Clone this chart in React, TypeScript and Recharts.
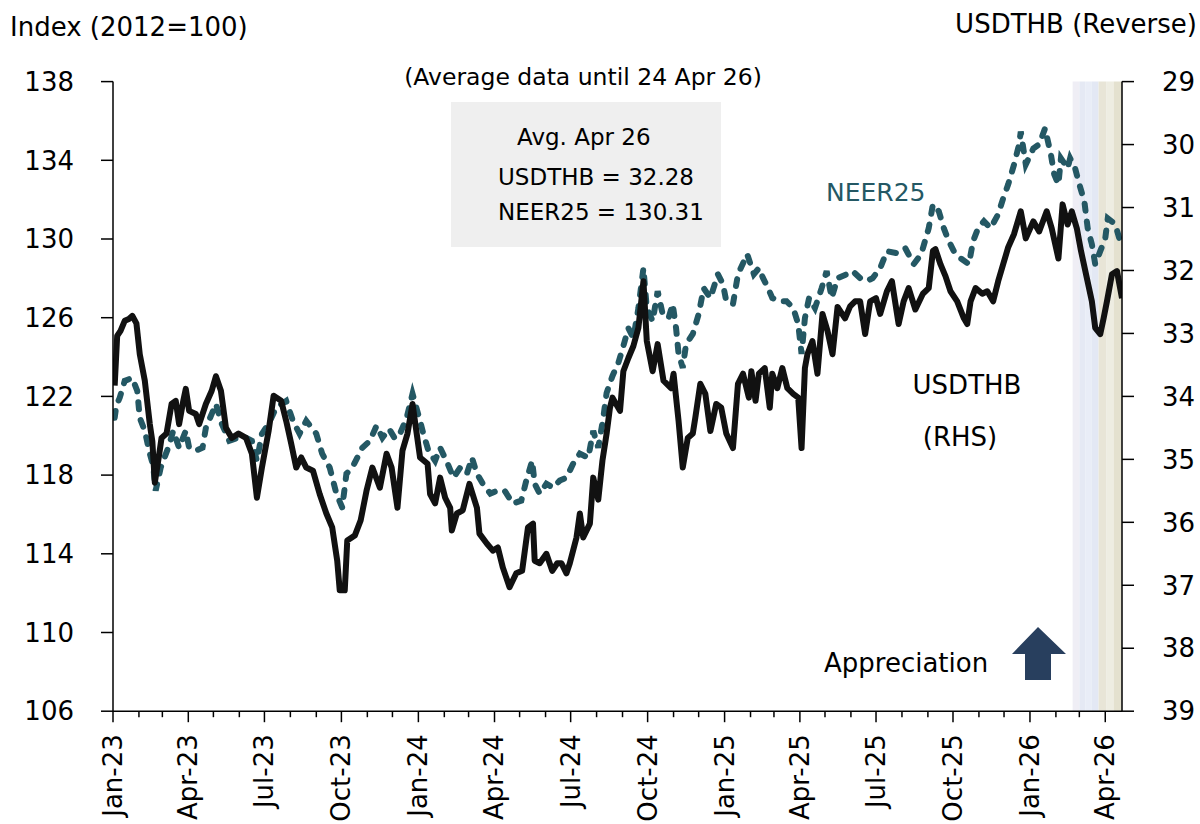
import React from "react";
import { ComposedChart, Line, XAxis, YAxis, ReferenceArea } from "recharts";

// USDTHB (right axis, reversed)
const usdDates = [
  "2023-01-03", "2023-01-06", "2023-01-10", "2023-01-15", "2023-01-20", "2023-01-24", "2023-01-29",
  "2023-02-02", "2023-02-08", "2023-02-14", "2023-02-17", "2023-02-20", "2023-02-25", "2023-02-28",
  "2023-03-06", "2023-03-12", "2023-03-17", "2023-03-21", "2023-03-26", "2023-03-29",
  "2023-04-02", "2023-04-10", "2023-04-14", "2023-04-22", "2023-04-29",
  "2023-05-04", "2023-05-10", "2023-05-16", "2023-05-23", "2023-05-31",
  "2023-06-09", "2023-06-16", "2023-06-22", "2023-06-28",
  "2023-07-06", "2023-07-12", "2023-07-21", "2023-07-27",
  "2023-08-02", "2023-08-08", "2023-08-14", "2023-08-20", "2023-08-28",
  "2023-09-05", "2023-09-13", "2023-09-20", "2023-09-26", "2023-09-29",
  "2023-10-05", "2023-10-08", "2023-10-17", "2023-10-24", "2023-10-31",
  "2023-11-07", "2023-11-16", "2023-11-24", "2023-11-30",
  "2023-12-07", "2023-12-13", "2023-12-19", "2023-12-25",
  "2024-01-03", "2024-01-12", "2024-01-15", "2024-01-21", "2024-01-27",
  "2024-02-02", "2024-02-08", "2024-02-10", "2024-02-16", "2024-02-23",
  "2024-03-02", "2024-03-11", "2024-03-14", "2024-03-23", "2024-03-30",
  "2024-04-05", "2024-04-11", "2024-04-19", "2024-04-27",
  "2024-05-04", "2024-05-11", "2024-05-17", "2024-05-19", "2024-05-25",
  "2024-06-02", "2024-06-09", "2024-06-15", "2024-06-20", "2024-06-26", "2024-06-30",
  "2024-07-08", "2024-07-12", "2024-07-16", "2024-07-24", "2024-07-28",
  "2024-08-03", "2024-08-08", "2024-08-13", "2024-08-17", "2024-08-20", "2024-08-29",
  "2024-09-02", "2024-09-08", "2024-09-14", "2024-09-20", "2024-09-26", "2024-09-30",
  "2024-10-07", "2024-10-13", "2024-10-20", "2024-10-29",
  "2024-11-01", "2024-11-07", "2024-11-12", "2024-11-18", "2024-11-24", "2024-11-27",
  "2024-12-03", "2024-12-09", "2024-12-15", "2024-12-22", "2024-12-28",
  "2025-01-03", "2025-01-11", "2025-01-17", "2025-01-23", "2025-01-30",
  "2025-02-02", "2025-02-07", "2025-02-11", "2025-02-18", "2025-02-24", "2025-02-27",
  "2025-03-05", "2025-03-11", "2025-03-17", "2025-03-24", "2025-03-30",
  "2025-04-03", "2025-04-07", "2025-04-10", "2025-04-16", "2025-04-22", "2025-04-28",
  "2025-05-04", "2025-05-10", "2025-05-16", "2025-05-25", "2025-05-31",
  "2025-06-06", "2025-06-12", "2025-06-18", "2025-06-24",
  "2025-07-01", "2025-07-06", "2025-07-14", "2025-07-20", "2025-07-28",
  "2025-08-03", "2025-08-09", "2025-08-17", "2025-08-26",
  "2025-09-02", "2025-09-07", "2025-09-10", "2025-09-16", "2025-09-22", "2025-09-28",
  "2025-10-06", "2025-10-14", "2025-10-18", "2025-10-22", "2025-10-28",
  "2025-11-05", "2025-11-11", "2025-11-18", "2025-11-24", "2025-11-30",
  "2025-12-06", "2025-12-13", "2025-12-21", "2025-12-27",
  "2026-01-05", "2026-01-12", "2026-01-21", "2026-01-27",
  "2026-02-04", "2026-02-09", "2026-02-15", "2026-02-20", "2026-02-26",
  "2026-03-03", "2026-03-10", "2026-03-16", "2026-03-20", "2026-03-26", "2026-03-30",
  "2026-04-03", "2026-04-09", "2026-04-15", "2026-04-21",
];
const usdValues = [
  33.83, 33.04, 32.96, 32.8, 32.77, 32.72, 32.84,
  33.33, 33.75, 34.44, 34.71, 35.37, 34.94, 34.66,
  34.59, 34.12, 34.07, 34.44, 34.07, 33.88,
  34.23, 34.28, 34.44, 34.12, 33.91,
  33.68, 33.91, 34.5, 34.66, 34.59,
  34.66, 34.91, 35.61, 35.13,
  34.55, 33.99, 34.07, 34.39,
  34.75, 35.13, 34.97, 35.13, 35.18,
  35.55, 35.86, 36.08, 36.61, 37.08,
  37.08, 36.29, 36.21, 35.97, 35.5,
  35.13, 35.45, 34.91, 35.13,
  35.77, 34.86, 34.59, 34.12,
  34.97, 35.07, 35.55, 35.7, 35.29,
  35.61, 35.77, 36.13, 35.86, 35.81,
  35.39, 35.77, 36.18, 36.34, 36.45,
  36.4, 36.72, 37.03, 36.81,
  36.77, 36.08, 36.02, 36.61, 36.65,
  36.5, 36.77, 36.65, 36.65, 36.81, 36.65,
  36.24, 35.86, 36.24, 36.02, 35.29,
  35.64, 35.02, 34.59, 34.18, 34.02, 34.23,
  33.6, 33.39, 33.2, 32.91, 32.17, 33.12,
  33.6, 33.17, 33.75, 33.87,
  33.64, 34.39, 35.13, 34.66, 34.59, 34.34,
  33.8, 33.96, 34.55, 34.12, 34.18,
  34.59, 34.82, 33.8, 33.64, 34.02,
  33.6, 34.07, 33.64, 33.55, 34.18, 33.64,
  33.87, 33.55, 33.87, 33.96, 34.02,
  34.82, 33.55, 33.33, 33.12, 33.64, 32.69,
  32.96, 33.33, 32.58, 32.76, 32.57,
  32.49, 32.49, 33.01, 32.49,
  32.44, 32.69, 32.33, 32.17, 32.85,
  32.49, 32.28, 32.62, 32.37,
  32.28, 31.69, 31.66, 31.9, 32.09, 32.33,
  32.49, 32.76, 32.85, 32.49, 32.28,
  32.37, 32.33, 32.49, 32.17, 31.9,
  31.63, 31.42, 31.06, 31.49,
  31.22, 31.38, 31.06, 31.33,
  31.81, 30.95, 31.27, 31.06, 31.33,
  31.69, 32.12, 32.49, 32.91, 33.01, 32.76,
  32.49, 32.06, 32.01, 32.44,
];

// NEER25 index (left axis)
const neerDates = [
  "2023-01-03", "2023-01-05", "2023-01-09", "2023-01-15", "2023-01-24", "2023-01-30",
  "2023-02-02", "2023-02-08", "2023-02-14", "2023-02-18", "2023-02-21", "2023-02-27",
  "2023-03-08", "2023-03-14", "2023-03-21", "2023-03-29",
  "2023-04-02", "2023-04-10", "2023-04-18", "2023-04-22", "2023-04-29",
  "2023-05-04", "2023-05-11", "2023-05-20", "2023-05-31",
  "2023-06-09", "2023-06-16", "2023-06-22", "2023-06-28",
  "2023-07-06", "2023-07-15", "2023-07-27",
  "2023-08-04", "2023-08-12", "2023-08-20",
  "2023-09-01", "2023-09-08", "2023-09-17", "2023-09-25",
  "2023-10-02", "2023-10-07", "2023-10-14", "2023-10-26",
  "2023-11-04", "2023-11-12", "2023-11-19", "2023-11-27",
  "2023-12-04", "2023-12-10", "2023-12-18", "2023-12-25",
  "2024-01-02", "2024-01-07", "2024-01-13", "2024-01-21", "2024-01-27",
  "2024-02-05", "2024-02-12", "2024-02-20", "2024-02-28",
  "2024-03-05", "2024-03-11", "2024-03-18", "2024-03-27",
  "2024-04-04", "2024-04-13", "2024-04-23",
  "2024-05-03", "2024-05-09", "2024-05-16", "2024-05-19", "2024-05-25",
  "2024-06-02", "2024-06-10", "2024-06-18", "2024-06-26",
  "2024-07-04", "2024-07-12", "2024-07-22", "2024-07-28",
  "2024-08-03", "2024-08-09", "2024-08-13", "2024-08-20", "2024-08-27",
  "2024-09-02", "2024-09-08", "2024-09-14", "2024-09-20", "2024-09-26", "2024-09-30",
  "2024-10-07", "2024-10-13", "2024-10-19", "2024-10-26", "2024-10-31",
  "2024-11-04", "2024-11-07", "2024-11-12", "2024-11-16", "2024-11-24",
  "2024-12-01", "2024-12-07", "2024-12-15", "2024-12-24", "2024-12-30",
  "2025-01-03", "2025-01-11", "2025-01-17", "2025-01-28",
  "2025-02-05", "2025-02-11", "2025-02-16", "2025-02-22", "2025-02-27",
  "2025-03-08", "2025-03-16", "2025-03-24", "2025-03-30",
  "2025-04-03", "2025-04-07", "2025-04-12", "2025-04-19", "2025-04-27",
  "2025-05-03", "2025-05-09", "2025-05-16", "2025-05-27",
  "2025-06-03", "2025-06-12", "2025-06-20", "2025-06-27",
  "2025-07-06", "2025-07-14", "2025-07-26",
  "2025-08-05", "2025-08-15", "2025-08-24",
  "2025-09-02", "2025-09-07", "2025-09-14", "2025-09-20", "2025-09-26",
  "2025-10-02", "2025-10-10", "2025-10-20", "2025-10-25", "2025-10-31",
  "2025-11-07", "2025-11-15", "2025-11-24", "2025-11-30",
  "2025-12-06", "2025-12-13", "2025-12-19", "2025-12-21", "2025-12-27",
  "2026-01-05", "2026-01-12", "2026-01-19", "2026-01-26", "2026-01-30",
  "2026-02-04", "2026-02-07", "2026-02-15", "2026-02-18", "2026-02-24",
  "2026-03-01", "2026-03-07", "2026-03-11", "2026-03-16", "2026-03-20", "2026-03-26",
  "2026-04-01", "2026-04-04", "2026-04-13", "2026-04-21",
];
const neerValues = [
  120.91, 121.52, 121.93, 122.79, 122.94, 122.28,
  120.91, 120.25, 119.09, 118.48, 117.21, 118.38,
  119.39, 120.25, 119.39, 120.25,
  119.39, 119.24, 119.39, 120.4, 121.11,
  121.62, 120.61, 119.74, 119.9,
  119.9, 119.74, 118.73, 120.1,
  120.61, 121.42, 121.77,
  120.76, 120.1, 120.76,
  120.1, 119.09, 118.38, 117.06,
  116.35, 118.07, 118.38, 119.39,
  119.74, 120.51, 119.9, 120.35,
  119.85, 120.1, 120.91, 122.13,
  120.91, 120.1, 119.24, 118.73, 119.39,
  118.58, 117.87, 118.38, 118.07,
  118.88, 118.07, 117.56, 117.06,
  117.21, 117.21, 116.55,
  116.7, 117.72, 118.73, 117.56, 117.06,
  117.56, 117.36, 117.72, 117.87,
  118.58, 119.09, 118.88, 120.25,
  119.39, 120.91, 122.18, 123.04, 123.7,
  124.56, 125.47, 124.97, 126.49, 128.52, 126.49,
  125.83, 127.35, 126.18, 125.98, 126.69,
  125.47, 124.16, 123.45, 124.66, 125.17,
  126.18, 127.5, 127.0, 128.21, 127.71,
  126.84, 126.69, 128.21, 129.23,
  128.21, 128.52, 128.01, 127.5, 127.0,
  126.84, 126.84, 126.49, 125.68,
  124.16, 125.98, 127.0, 126.49, 127.5,
  128.37, 127.0, 128.01, 128.21,
  128.37, 128.01, 127.86, 128.01,
  128.52, 129.38, 129.28,
  129.53, 128.72, 129.23,
  130.55, 131.76, 131.41, 130.55, 129.89,
  129.38, 129.02, 128.72, 129.89, 130.55,
  130.9, 130.55, 131.26, 132.07,
  132.78, 133.79, 134.81, 135.46, 133.79,
  134.6, 134.81, 135.62, 134.3, 133.28,
  132.78, 134.1, 133.59, 134.1, 133.59,
  132.78, 131.91, 130.55, 129.73, 128.72, 129.38,
  130.04, 131.05, 130.75, 129.53,
];

const quarterLabels = [
  "Jan-23", "Apr-23", "Jul-23", "Oct-23",
  "Jan-24", "Apr-24", "Jul-24", "Oct-24",
  "Jan-25", "Apr-25", "Jul-25", "Oct-25",
  "Jan-26", "Apr-26",
];
const leftTicks = [106, 110, 114, 118, 122, 126, 130, 134, 138];
const rightTicks = [29, 30, 31, 32, 33, 34, 35, 36, 37, 38, 39];

// shaded period at the end of the chart
const shadeStarts = ["2026-02-21", "2026-03-01", "2026-03-08", "2026-03-16", "2026-03-24", "2026-04-02", "2026-04-11"];
const shadeEnds = ["2026-03-01", "2026-03-08", "2026-03-16", "2026-03-24", "2026-04-02", "2026-04-11", "2026-04-21"];
const shadeColors = ["#EFEEF5", "#E5E9F4", "#E9EDF7", "#E3E8F4", "#E8E5D7", "#EEEDE2", "#E4E1CF"];

const START = Date.UTC(2023, 0, 1);
const END = Date.UTC(2026, 3, 21);
const FONT = "DejaVu Sans";
const TEAL = "#245864";

const usdData = usdDates.map((d, i) => ({ t: Date.parse(d), usd: usdValues[i] }));
const neerData = neerDates.map((d, i) => ({ t: Date.parse(d), neer: neerValues[i] }));
const monthTicks = Array.from({ length: 40 }, (_, i) => Date.UTC(2023, i, 1));

const MonthTick = (props: any) => {
  const { x, y, payload } = props;
  const d = new Date(payload.value);
  const idx = (d.getUTCFullYear() - 2023) * 12 + d.getUTCMonth();
  const major = idx % 3 === 0;
  const ly = y + 23;
  return (
    <g>
      <line x1={x} y1={y} x2={x} y2={y + (major ? 11 : 6)} stroke="#000" strokeWidth={1.5} />
      {major && (
        <text
          x={x}
          y={ly}
          transform={`rotate(-90 ${x} ${ly})`}
          textAnchor="end"
          dominantBaseline="central"
          fontSize={26}
          fontFamily={FONT}
          fill="#000"
        >
          {quarterLabels[idx / 3]}
        </text>
      )}
    </g>
  );
};

const App: React.FC = () => {
  const tickStyle = { fill: "#000", fontSize: 26, fontFamily: FONT };
  return (
    <div style={{ position: "absolute", left: 0, top: 0, width: 1200, height: 824, background: "#fff" }}>
      <ComposedChart width={1200} height={824} margin={{ top: 81.6, right: 0, bottom: 0, left: 0 }}>
        <XAxis
          type="number"
          dataKey="t"
          domain={[START, END]}
          allowDataOverflow
          ticks={monthTicks}
          interval={0}
          tickSize={0}
          tickMargin={0}
          tickLine={false}
          tick={<MonthTick />}
          height={112.8}
          axisLine={{ stroke: "#000", strokeWidth: 1.5 }}
        />
        <YAxis
          yAxisId="left"
          domain={[106, 138]}
          ticks={leftTicks}
          interval={0}
          width={113}
          tickSize={12}
          tickMargin={27}
          tick={tickStyle}
          axisLine={{ stroke: "#000", strokeWidth: 1.5 }}
          tickLine={{ stroke: "#000", strokeWidth: 1.5 }}
        />
        <YAxis
          yAxisId="right"
          orientation="right"
          reversed
          domain={[29, 39]}
          ticks={rightTicks}
          interval={0}
          width={78}
          tickSize={12}
          tickMargin={28}
          tick={tickStyle}
          axisLine={{ stroke: "#000", strokeWidth: 1.5 }}
          tickLine={{ stroke: "#000", strokeWidth: 1.5 }}
        />
        {shadeStarts.map((s, i) => (
          <ReferenceArea
            key={s}
            yAxisId="left"
            x1={Date.parse(s)}
            x2={Date.parse(shadeEnds[i])}
            fill={shadeColors[i]}
            fillOpacity={1}
            stroke="none"
          />
        ))}
        <Line
          yAxisId="left"
          data={neerData}
          dataKey="neer"
          type="linear"
          stroke={TEAL}
          strokeWidth={6}
          strokeDasharray="7 11"
          strokeLinecap="round"
          dot={false}
          isAnimationActive={false}
        />
        <Line
          yAxisId="right"
          data={usdData}
          dataKey="usd"
          type="linear"
          stroke="#111"
          strokeWidth={6}
          strokeLinejoin="round"
          dot={false}
          isAnimationActive={false}
        />
      </ComposedChart>
      <svg
        width={1200}
        height={824}
        style={{ position: "absolute", left: 0, top: 0, pointerEvents: "none" }}
        fontFamily={FONT}
      >
        <text x={10} y={27} fontSize={26} dominantBaseline="central" fill="#000">Index (2012=100)</text>
        <text x={1197} y={24} fontSize={26} textAnchor="end" dominantBaseline="central" fill="#000">USDTHB (Reverse)</text>
        <text x={583} y={77} fontSize={23.5} textAnchor="middle" dominantBaseline="central" fill="#000">
          (Average data until 24 Apr 26)
        </text>
        <rect x={451} y={102} width={270} height={145} fill="#EFEFEF" />
        <text x={517} y={137} fontSize={23} dominantBaseline="central" fill="#000">Avg. Apr 26</text>
        <text x={498} y={177} fontSize={23} dominantBaseline="central" fill="#000">USDTHB = 32.28</text>
        <text x={498} y={212} fontSize={23} dominantBaseline="central" fill="#000">NEER25 = 130.31</text>
        <text x={826} y={192} fontSize={25} dominantBaseline="central" fill={TEAL}>NEER25</text>
        <text x={967} y={385} fontSize={26} textAnchor="middle" dominantBaseline="central" fill="#000">USDTHB</text>
        <text x={960} y={437} fontSize={26} textAnchor="middle" dominantBaseline="central" fill="#000">(RHS)</text>
        <text x={824} y={663} fontSize={26} dominantBaseline="central" fill="#000">Appreciation</text>
        <polygon
          points="1038,627 1066,654 1051,654 1051,680 1025,680 1025,654 1012,654"
          fill="#283F5E"
        />
      </svg>
    </div>
  );
};

export default App;
